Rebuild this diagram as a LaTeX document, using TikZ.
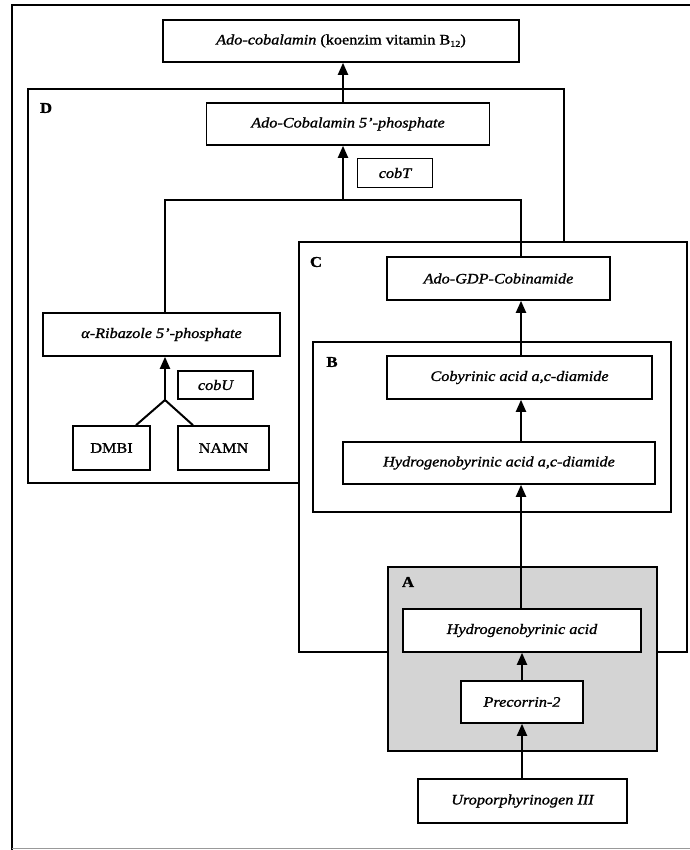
\documentclass[tikz,border=0pt]{standalone}
\usepackage{fontspec}
\setmainfont{Liberation Serif}[FakeStretch=1.12, FakeBold=1.2]
\usetikzlibrary{arrows.meta}
\tikzset{
  bx/.style={draw, fill=white, line width=1.6pt, inner sep=0pt, font=\fontsize{14.5}{16}\selectfont\itshape},
  upbx/.style={bx, font=\fontsize{14.5}{16}\selectfont},
  grp/.style={draw, line width=1.5pt},
  lbl/.style={inner sep=0pt, font=\fontsize{15}{16}\selectfont\bfseries},
  conn/.style={line width=2pt},
  arr/.style={conn, -{Triangle[length=12pt,width=10pt]}}
}
\begin{document}
\begin{tikzpicture}[x=1pt,y=-1pt]
\useasboundingbox (0,0) rectangle (689,850);
% outer frame
\draw[line width=1.5pt] (700,5) -- (12,5) -- (12,852);
\draw[line width=1pt, black!40] (12,848) -- (700,848);
% group D
\draw[grp] (28,89) rectangle (564,483);
\node[lbl] (labD) at (46,108) {D};
% group C (over D)
\draw[grp, fill=white] (299,242) rectangle (687,652);
\node[lbl] (labC) at (316,262) {C};
% group B
\draw[grp] (313,342) rectangle (671,512);
\node[lbl] (labB) at (332,362) {B};
% group A
\draw[grp, fill=black!17] (388,567) rectangle (657,751);
\node[lbl] (labA) at (408,582) {A};

% nodes
\node[bx, minimum width=356pt, minimum height=42pt] (top) at (341,41)
  {Ado-cobalamin\upshape{} (koenzim vitamin B\raisebox{-0.35ex}{\fontsize{9}{9}\selectfont 12})};
\node[bx, minimum width=283pt, minimum height=42pt] (acp) at (348,124) {Ado-Cobalamin 5'-phosphate};
\node[bx, minimum width=75pt, minimum height=29pt] (cobT) at (395,173) {cobT};
\node[bx, minimum width=223pt, minimum height=43pt] (gdp) at (498.5,278.5) {Ado-GDP-Cobinamide};
\node[bx, minimum width=237pt, minimum height=43pt] (rib) at (161.5,334.5) {α-Ribazole 5'-phosphate};
\node[bx, minimum width=75pt, minimum height=28pt] (cobU) at (215.5,385) {cobU};
\node[upbx, minimum width=77pt, minimum height=44pt] (dmbi) at (111.5,448) {DMBI};
\node[upbx, minimum width=91pt, minimum height=44pt] (namn) at (223.5,448) {NAMN};
\node[bx, minimum width=265pt, minimum height=43pt] (cob) at (519.5,377.5) {Cobyrinic acid a,c-diamide};
\node[bx, minimum width=312pt, minimum height=42pt] (hd) at (499,463) {Hydrogenobyrinic acid a,c-diamide};
\node[bx, minimum width=238pt, minimum height=43pt] (ha) at (522,630.5) {Hydrogenobyrinic acid};
\node[bx, minimum width=122pt, minimum height=42pt] (pre) at (522,702) {Precorrin-2};
\node[bx, minimum width=209pt, minimum height=44pt] (uro) at (522.5,801) {Uroporphyrinogen III};

% connectors
\coordinate (jm) at (343,200);
\coordinate (jl) at (165,200);
\coordinate (jr) at (521,200);
\coordinate (jb) at (165,400);
\coordinate (cc) at (521,0);
\coordinate (ca) at (522,0);

\draw[arr] (acp.north -| jm) -- (top.south -| jm);
\draw[arr] (jm) -- (acp.south -| jm);
\draw[conn] (rib.north -| jl) -- (jl) -- (jr) -- (gdp.north -| jr);
\draw[arr] (jb) -- (rib.south -| jb);
\draw[conn] (dmbi.north -| 136,0) -- (jb) -- (namn.north -| 193,0);
\draw[arr] (cob.north -| cc) -- (gdp.south -| cc);
\draw[arr] (hd.north -| cc) -- (cob.south -| cc);
\draw[arr] (ha.north -| cc) -- (hd.south -| cc);
\draw[arr] (pre.north -| ca) -- (ha.south -| ca);
\draw[arr] (uro.north -| ca) -- (pre.south -| ca);
\end{tikzpicture}
\end{document}
